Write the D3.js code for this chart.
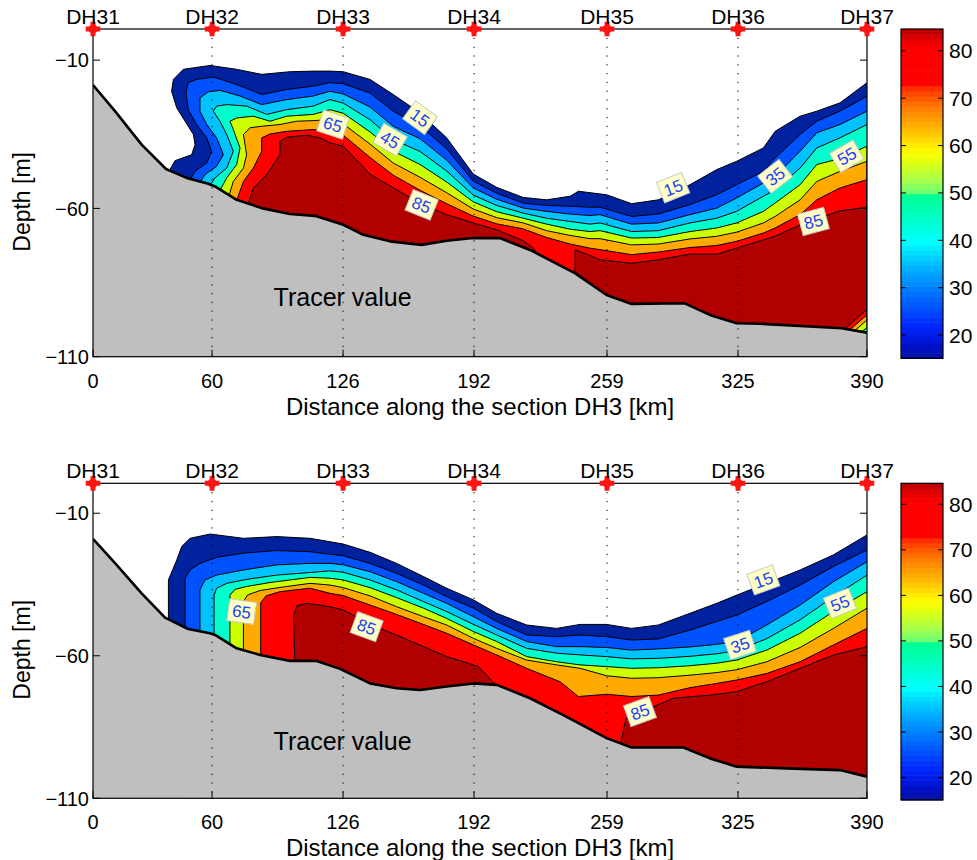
<!DOCTYPE html>
<html>
<head>
<meta charset="utf-8">
<script src="https://cdn.jsdelivr.net/npm/d3@7"></script>
<style>
  body { margin: 0; background: #fff; }
  svg { display: block; }
  text { font-family: "Liberation Sans", Arial, Helvetica, sans-serif; }
</style>
</head>
<body>
<svg id="fig" width="977" height="860"></svg>
<script>
// ---- stations and axes ----
const stationNames = ["DH31", "DH32", "DH33", "DH34", "DH35", "DH36", "DH37"];
const stationKm = [0, 60, 126, 192, 259, 325, 390];
const depthTicks = [-10, -60, -110];

// ---- contour levels and band colours ----
const levels = [15, 25, 35, 45, 55, 65, 75, 85];
const levelColors = ["#00229e", "#0052ff", "#00c2ff", "#00ffcc", "#ccff00", "#ffaa00", "#ff0000", "#b00000"];

// ---- colour bar ----
const cbarMin = 15.1, cbarMax = 84.6;
const cbarTicks = [20, 30, 40, 50, 60, 70, 80];
const cbarStopValues = [15.1, 17.2, 19.3, 22.1, 24.9, 27.8, 30.6, 33.4, 35.5, 37.6, 39.7, 41.8, 44.6, 47.4, 49.9, 50.3, 52.4, 54.5, 56.6, 58.7, 60.8, 62.9, 65.0, 67.1, 69.2, 71.4, 72.8, 73.1, 80.5, 82.6, 84.6];
const cbarStopColors = ["#0a14a0", "#0010c0", "#0018e0", "#0028ff", "#0048ff", "#0068ff", "#0088ff", "#00a8ff", "#00c4ff", "#00e0ff", "#00ffff", "#00ffe8", "#00ffc8", "#00ffa8", "#00ff90", "#70ff70", "#a0ff50", "#c0ff30", "#e0ff10", "#ffff00", "#ffe000", "#ffc000", "#ffa500", "#ff8a00", "#ff6a00", "#ff4000", "#ff1e00", "#ff0000", "#ff0000", "#e00000", "#b40000"];

// ---- upper section: seabed [km, depth m] ----
const topBathy = [[0,-18.4],[11.1,-27.2],[24.5,-38.5],[36.8,-46.7],[47.2,-49.7],[58.1,-51.7],[61.5,-52.6],[72.4,-57.1],[85,-59.9],[99.2,-61.9],[111.8,-62.5],[126.1,-65.5],[136.2,-68.9],[149.6,-71.1],[165.6,-72.3],[178.2,-70.9],[191.6,-70.0],[205,-70.0],[220.2,-74.0],[242.8,-81.8],[258.8,-89.2],[271.4,-92.2],[298.2,-92.0],[310.8,-95.9],[324.3,-98.7],[336,-98.9],[377.2,-100.4],[390,-101.9]];

// upper section: contour lines [km, depth m]
const top15 = [[37.0,-49],[41.3,-43.9],[49.7,-41.9],[51.4,-38.5],[50.6,-35.1],[46.4,-30.6],[42.2,-26.1],[39.6,-20.5],[40.5,-16.5],[45.5,-13.1],[50.6,-12.6],[59.0,-11.8],[72.4,-13.1],[85.0,-14.8],[99.3,-13.9],[111.0,-13.7],[119.4,-13.7],[126.1,-13.9],[139.6,-16.5],[151.3,-21.6],[164.8,-27.8],[178.2,-36.2],[191.6,-48.4],[203.4,-52.9],[216.8,-56.3],[228.6,-57.1],[240.4,-55.9],[244.6,-54.2],[258.8,-55.4],[271.4,-58.4],[284.9,-57.1],[300.8,-52.0],[314.3,-46.9],[324.3,-44.1],[337.8,-39.6],[343.7,-34.0],[356.3,-28.9],[364.7,-27.2],[376.4,-24.4],[390,-17.6]];
const top25 = [[47.5,-52],[51.4,-47.5],[57.3,-44.7],[59.8,-40.7],[57.3,-36.2],[52.2,-31.7],[48.0,-26.7],[46.9,-21.0],[48.0,-17.6],[52.2,-16.5],[60.6,-15.7],[72.4,-18.2],[85.0,-21.6],[97.6,-19.9],[111.0,-18.8],[119.4,-17.6],[126.1,-18.0],[139.6,-21.1],[151.3,-27.2],[164.8,-32.2],[178.2,-39.9],[191.6,-50.8],[203.4,-54.9],[216.8,-58.2],[228.6,-59.0],[240.4,-59.3],[250.4,-59.6],[255.5,-59.6],[271.4,-62.7],[284.9,-61.9],[300.8,-58.7],[314.3,-55.4],[324.3,-52.0],[337.8,-47.5],[343.7,-43.0],[356.3,-35.1],[364.7,-30.6],[376.4,-27.2],[390,-22.2]];
const top35 = [[52.2,-53],[56.4,-48.6],[62.3,-45.8],[65.7,-41.9],[62.3,-36.2],[57.3,-31.7],[53.9,-27.2],[53.9,-22.7],[58.1,-20.7],[64.0,-20.2],[74.1,-22.1],[85.0,-25.0],[97.6,-23.3],[111.0,-22.1],[119.4,-20.5],[126.1,-21.4],[139.6,-25.8],[151.3,-32.3],[164.8,-36.5],[178.2,-43.7],[191.6,-53.1],[203.4,-56.9],[216.8,-59.9],[228.6,-61.0],[240.4,-61.9],[250.4,-62.4],[255.5,-62.1],[271.4,-65.3],[284.9,-64.9],[300.8,-62.1],[314.3,-59.9],[324.3,-56.5],[337.8,-51.4],[343.7,-49.2],[356.3,-40.7],[364.7,-34.5],[376.4,-31.7],[390,-27.2]];
const top45 = [[57.6,-53.5],[61.5,-49.7],[67.4,-46.4],[70.7,-40.7],[67.4,-35.1],[64.0,-30.6],[60.6,-27.2],[62.3,-25.5],[67.4,-25.0],[77.4,-25.5],[87.5,-28.3],[97.6,-26.7],[111.0,-25.5],[119.4,-23.3],[126.1,-24.5],[139.6,-30.1],[151.3,-36.8],[164.8,-40.8],[178.2,-47.4],[191.6,-55.5],[203.4,-59.0],[216.8,-61.6],[228.6,-63.3],[240.4,-64.4],[250.4,-65.3],[255.5,-64.9],[271.4,-67.8],[284.9,-67.5],[300.8,-64.9],[314.3,-63.3],[324.3,-61.0],[337.8,-55.9],[343.7,-53.7],[356.3,-46.4],[364.7,-39.6],[376.4,-36.2],[390,-31.7]];
const top55 = [[62.7,-55.5],[67.4,-49.7],[72.4,-45.2],[74.1,-39.6],[70.7,-33.4],[69.0,-30.6],[72.4,-29.5],[80.8,-28.9],[89.2,-30.6],[97.6,-28.9],[111.0,-28.3],[119.4,-26.7],[126.1,-27.9],[139.6,-34.2],[151.3,-40.7],[164.8,-45.2],[178.2,-51.1],[191.6,-57.8],[203.4,-61.1],[216.8,-63.3],[228.6,-65.3],[240.4,-67.0],[250.4,-67.8],[255.5,-67.5],[271.4,-70.0],[284.9,-69.8],[300.8,-67.8],[314.3,-66.6],[324.3,-64.9],[337.8,-61.0],[343.7,-58.2],[356.3,-52.0],[364.7,-45.2],[376.4,-43.2],[390,-39.0],[390,-100.2],[387.3,-101.6],[387.3,-104]];
const top65 = [[67.7,-57.5],[70.7,-50.9],[75.8,-46.4],[77.4,-41.9],[75.8,-35.1],[79.1,-32.8],[85.0,-32.3],[94.2,-31.7],[102.6,-30.6],[111.0,-30.4],[119.4,-30.0],[126.1,-31.5],[139.6,-38.3],[151.3,-44.7],[164.8,-49.5],[178.2,-54.7],[191.6,-60.2],[203.4,-63.1],[216.8,-64.9],[228.6,-67.5],[240.4,-69.1],[250.4,-70.2],[255.5,-70.2],[271.4,-72.3],[284.9,-72.0],[300.8,-70.3],[314.3,-69.4],[324.3,-68.0],[337.8,-64.9],[343.7,-62.7],[356.3,-57.1],[364.7,-50.9],[376.4,-47.5],[390,-44.1],[390,-97.6],[383.9,-101.2],[383.9,-104]];
const top75 = [[71.5,-59],[75.8,-50.9],[80.8,-46.4],[85.0,-40.7],[85.0,-36.2],[89.2,-34.9],[97.6,-34.0],[111.0,-33.4],[119.4,-34.0],[126.1,-35.3],[139.6,-42.8],[151.3,-48.8],[164.8,-53.9],[178.2,-58.4],[191.6,-62.6],[203.4,-65.2],[216.8,-66.9],[228.6,-69.8],[240.4,-72.0],[250.4,-73.4],[255.5,-73.9],[271.4,-75.6],[284.9,-74.7],[300.8,-73.2],[314.3,-72.5],[324.3,-71.1],[337.8,-68.3],[343.7,-66.6],[356.3,-62.1],[364.7,-57.1],[376.4,-53.1],[390,-50.3],[390,-95.9],[381.4,-100.9],[381.4,-104]];
const top85a = [[77.1,-60.5],[80.8,-53.1],[87.5,-48.6],[94.2,-41.9],[94.2,-37.4],[97.6,-36.0],[107.7,-35.3],[114.4,-36.2],[119.4,-37.9],[126.1,-39.0],[139.6,-48.4],[151.3,-53.1],[164.8,-58.2],[178.2,-62.1],[191.6,-64.9],[203.4,-67.2],[216.8,-70.9],[221.9,-73.4],[227,-78.5]];
const top85b = [[242.9,-84],[242.9,-73.9],[255.5,-77.3],[271.4,-78.5],[284.9,-77.3],[300.8,-75.4],[314.3,-75.4],[324.3,-73.4],[337.8,-70.6],[343.7,-69.4],[356.3,-65.5],[364.7,-63.5],[376.4,-60.8],[390,-59.6],[390,-94.0],[378.9,-100.6],[378.9,-104]];

// upper section: inline contour labels
const topLabelValues = [65, 45, 15, 85, 15, 35, 55, 85];
const topLabelKm = [120.9, 149.7, 164.8, 165.6, 292.3, 343.7, 379.8, 363.0];
const topLabelDepth = [-31.7, -36.8, -29.4, -58.8, -53.0, -49.2, -42.4, -64.4];
const topLabelAngle = [18, 30, 36, 22, -22, -38, -30, -15];

// ---- lower section: seabed [km, depth m] ----
const botBathy = [[0,-19.0],[11.1,-27.5],[24.5,-38.1],[36.3,-46.6],[48.0,-50.6],[58.9,-52.1],[61.5,-52.7],[72.4,-57.4],[84.2,-59.7],[99.3,-61.8],[112.7,-61.8],[124.5,-64.6],[139.6,-69.7],[153.0,-71.4],[164.8,-72.0],[178.2,-70.8],[191.6,-69.7],[203.4,-70.2],[220.2,-74.9],[237.0,-80.8],[258.8,-88.9],[271.4,-92.2],[297.5,-92.2],[310.9,-96.0],[324.3,-98.9],[349.5,-99.5],[376.4,-100.1],[390,-102.4]];

// lower section: contour lines [km, depth m]
const bot15 = [[38.0,-49],[38.0,-33.4],[42.2,-26.4],[44.7,-21.7],[48.9,-18.8],[59.0,-17.3],[75.8,-18.8],[92.6,-18.2],[109.4,-18.8],[119.4,-20.0],[126.1,-20.8],[139.6,-23.7],[153.0,-27.6],[166.5,-32.2],[178.2,-36.3],[191.7,-40.4],[203.4,-45.1],[218.5,-49.2],[233.6,-50.4],[245.4,-49.0],[258.8,-49.0],[271.4,-50.4],[284.9,-49.2],[300.8,-45.1],[314.3,-41.6],[324.4,-38.7],[339.5,-34.6],[356.3,-29.9],[373.1,-24.6],[390,-17.6]];
const bot25 = [[46.4,-52],[46.4,-32.8],[48.9,-29.9],[53.9,-27.6],[62.3,-25.5],[75.8,-24.0],[92.6,-23.1],[109.4,-23.5],[119.4,-24.4],[126.1,-24.9],[139.6,-27.6],[153.0,-31.1],[166.5,-35.2],[178.2,-39.3],[191.7,-43.3],[203.4,-48.0],[218.5,-52.7],[233.6,-53.3],[245.4,-52.7],[258.8,-53.3],[271.4,-54.5],[284.9,-54.1],[300.8,-51.0],[314.3,-48.0],[324.4,-45.7],[339.5,-41.0],[356.3,-35.2],[373.1,-28.7],[390,-22.9]];
const bot35 = [[53.9,-53.5],[53.9,-36.9],[56.4,-33.4],[62.3,-31.7],[75.8,-29.9],[92.6,-28.1],[109.4,-27.6],[119.4,-27.6],[126.1,-28.1],[139.6,-30.5],[153.0,-34.0],[166.5,-38.1],[178.2,-41.6],[191.7,-46.3],[203.4,-50.4],[218.5,-55.0],[233.6,-56.8],[245.4,-56.8],[258.8,-57.1],[271.4,-58.0],[284.9,-57.6],[300.8,-56.9],[314.3,-56.0],[324.4,-55.0],[339.5,-49.2],[356.3,-42.2],[373.1,-34.0],[390,-27.0]];
const bot45 = [[61.0,-54.5],[61.0,-38.7],[62.3,-36.3],[67.4,-34.6],[77.4,-33.2],[92.6,-31.7],[109.4,-30.8],[119.4,-30.2],[126.1,-30.7],[139.6,-33.4],[153.0,-36.9],[166.5,-41.0],[178.2,-44.5],[191.7,-49.0],[203.4,-52.7],[218.5,-57.4],[233.6,-59.1],[245.4,-59.7],[258.8,-60.3],[271.4,-61.1],[284.9,-60.9],[300.8,-60.2],[314.3,-59.3],[324.4,-58.2],[339.5,-54.0],[356.3,-47.4],[373.1,-39.3],[390,-31.7]];
const bot55 = [[69.0,-58],[69.0,-38.7],[71.6,-36.7],[77.4,-35.7],[89.2,-34.3],[109.4,-32.5],[119.4,-32.8],[126.1,-33.4],[139.6,-36.1],[153.0,-39.6],[166.5,-43.3],[178.2,-46.9],[191.7,-51.5],[203.4,-55.0],[218.5,-60.3],[233.6,-62.1],[245.4,-63.2],[258.8,-63.8],[271.4,-64.4],[284.9,-64.2],[300.8,-63.5],[314.3,-62.6],[324.4,-61.5],[339.5,-58.0],[356.3,-52.1],[373.1,-44.5],[390,-37.5]];
const bot65 = [[75.8,-60],[75.8,-41.0],[77.8,-38.7],[84.2,-37.1],[97.6,-35.7],[109.4,-34.6],[119.4,-35.2],[126.1,-36.1],[139.6,-39.0],[153.0,-42.8],[166.5,-46.3],[178.2,-49.2],[191.7,-53.9],[203.4,-57.4],[218.5,-61.5],[233.6,-63.2],[245.4,-64.4],[258.8,-67.0],[271.4,-67.9],[284.9,-67.7],[300.8,-66.8],[314.3,-65.9],[324.4,-64.9],[339.5,-62.1],[356.3,-57.1],[373.1,-50.4],[390,-43.3]];
const bot75 = [[84.5,-62],[84.5,-41.4],[87.2,-39.0],[94.2,-37.5],[109.4,-36.3],[119.4,-38.1],[126.1,-38.9],[139.6,-42.2],[153.0,-45.5],[166.5,-49.0],[178.2,-52.1],[191.7,-56.2],[203.4,-59.7],[218.5,-64.4],[235.3,-69.1],[244.6,-74.3],[258.8,-73.5],[271.4,-74.3],[284.9,-73.8],[300.8,-71.2],[314.3,-69.7],[324.4,-68.5],[339.5,-66.2],[356.3,-62.1],[373.1,-56.2],[390,-50.4]];
const bot85a = [[101.8,-64],[101.0,-46.3],[102.6,-42.5],[107.7,-41.6],[119.4,-42.8],[126.1,-43.9],[139.6,-49.0],[153.0,-52.7],[166.5,-56.8],[178.2,-60.3],[191.7,-63.2],[194.2,-63.8],[206,-72.5]];
const bot85b = [[265.2,-93],[268.6,-81.9],[280.7,-78.4],[292.4,-74.9],[310.9,-73.8],[324.4,-72.6],[339.5,-69.1],[356.3,-64.4],[373.1,-59.7],[390,-56.8]];

// lower section: inline contour labels
const botLabelValues = [65, 85, 15, 55, 35, 85];
const botLabelKm = [74.9, 137.9, 337.8, 376.4, 326.0, 275.6];
const botLabelDepth = [-44.5, -49.8, -33.4, -41.6, -56.2, -79.6];
const botLabelAngle = [8, 20, -20, -22, -18, -20];

// ---- layout ----
const panels = [
  { top: 29, bottom: 356.7, bathy: topBathy,
    contours: [[top15], [top25], [top35], [top45], [top55], [top65], [top75], [top85a, top85b]],
    labels: { values: topLabelValues, km: topLabelKm, depth: topLabelDepth, angle: topLabelAngle } },
  { top: 483.3, bottom: 798.3, bathy: botBathy,
    contours: [[bot15], [bot25], [bot35], [bot45], [bot55], [bot65], [bot75], [bot85a, bot85b]],
    labels: { values: botLabelValues, km: botLabelKm, depth: botLabelDepth, angle: botLabelAngle } }
];

const svg = d3.select("#fig");
const defs = svg.append("defs");
const x = d3.scaleLinear().domain([0, 390]).range([93, 867]);
const cbarColor = d3.scaleLinear().domain(cbarStopValues).range(cbarStopColors).interpolate(d3.interpolateRgb);

panels.forEach((p, pi) => {
  const y = d3.scaleLinear().domain([-110, 0.5]).range([p.bottom, p.top]);
  const line = d3.line().x(d => x(d[0])).y(d => y(d[1]));
  const clipId = "plotclip" + pi;
  defs.append("clipPath").attr("id", clipId)
    .append("rect").attr("x", x(0)).attr("y", p.top)
    .attr("width", x(390) - x(0)).attr("height", p.bottom - p.top);

  const g = svg.append("g");
  const plot = g.append("g").attr("clip-path", `url(#${clipId})`);

  // filled bands: each level region is painted over the previous one
  p.contours.forEach((segs, li) => {
    segs.forEach(pts => {
      const poly = pts.concat([[pts[pts.length - 1][0], -110], [pts[0][0], -110]]);
      plot.append("path").attr("d", line(poly) + "Z").attr("fill", levelColors[li]);
    });
  });
  // contour lines
  p.contours.forEach(segs => segs.forEach(pts => {
    plot.append("path").attr("d", line(pts)).attr("fill", "none")
      .attr("stroke", "#000").attr("stroke-width", 1).attr("stroke-linejoin", "round");
  }));

  // seabed
  const seabed = p.bathy.concat([[390, -110], [0, -110]]);
  plot.append("path").attr("d", line(seabed) + "Z").attr("fill", "#bfbfbf");
  plot.append("path").attr("d", line(p.bathy)).attr("fill", "none")
    .attr("stroke", "#000").attr("stroke-width", 2.6).attr("stroke-linejoin", "round");

  // dotted station verticals
  stationKm.slice(1, -1).forEach(k => {
    g.append("line").attr("x1", x(k)).attr("x2", x(k)).attr("y1", p.top).attr("y2", p.bottom)
      .attr("stroke", "#000").attr("stroke-width", 1).attr("stroke-dasharray", "1.3,7.5");
  });

  // "Tracer value" note on the seabed
  g.append("text").attr("x", x(91)).attr("y", y(-93)).attr("font-size", 25).attr("fill", "#000")
    .text("Tracer value");

  // axes frame
  g.append("rect").attr("x", x(0)).attr("y", p.top).attr("width", x(390) - x(0))
    .attr("height", p.bottom - p.top).attr("fill", "none").attr("stroke", "#000").attr("stroke-width", 1.2);

  // x ticks (bottom + top, inward) and labels
  stationKm.forEach((k, i) => {
    g.append("line").attr("x1", x(k)).attr("x2", x(k)).attr("y1", p.bottom).attr("y2", p.bottom - 7)
      .attr("stroke", "#000").attr("stroke-width", 1);
    g.append("line").attr("x1", x(k)).attr("x2", x(k)).attr("y1", p.top).attr("y2", p.top + 7)
      .attr("stroke", "#000").attr("stroke-width", 1);
    g.append("text").attr("x", x(k)).attr("y", p.bottom + 31).attr("text-anchor", "middle")
      .attr("font-size", 20).text(String(k));
  });
  g.append("text").attr("x", x(195)).attr("y", p.bottom + 58).attr("text-anchor", "middle")
    .attr("font-size", 24).text("Distance along the section DH3 [km]");

  // y ticks and labels
  depthTicks.forEach(d => {
    g.append("line").attr("x1", x(0)).attr("x2", x(0) + 7).attr("y1", y(d)).attr("y2", y(d))
      .attr("stroke", "#000").attr("stroke-width", 1);
    g.append("line").attr("x1", x(390)).attr("x2", x(390) - 7).attr("y1", y(d)).attr("y2", y(d))
      .attr("stroke", "#000").attr("stroke-width", 1);
    g.append("text").attr("x", 89).attr("y", y(d)).attr("dy", "0.36em").attr("text-anchor", "end")
      .attr("font-size", 20).text(String(d).replace("-", "\u2212"));
  });
  g.append("text").attr("transform", `translate(30,${(p.top + p.bottom) / 2 + 9}) rotate(-90)`)
    .attr("text-anchor", "middle").attr("font-size", 23).text("Depth [m]");

  // station markers and names
  stationKm.forEach((k, i) => {
    const mx = x(k), my = y(0.5);
    g.append("path").attr("d", d3.symbol(d3.symbolCross, 120)())
      .attr("transform", `translate(${mx},${my})`).attr("fill", "#ff1414");
    g.append("path").attr("d", d3.symbol(d3.symbolSquare, 80)())
      .attr("transform", `translate(${mx},${my}) rotate(45)`).attr("fill", "#ff1414");
    g.append("text").attr("x", mx).attr("y", p.top - 5).attr("text-anchor", "middle")
      .attr("font-size", 21).text(stationNames[i]);
  });

  // inline contour labels
  p.labels.values.forEach((v, i) => {
    const lg = g.append("g")
      .attr("transform", `translate(${x(p.labels.km[i])},${y(p.labels.depth[i])}) rotate(${p.labels.angle[i]})`);
    lg.append("rect").attr("x", -13.5).attr("y", -11).attr("width", 27).attr("height", 22)
      .attr("fill", "#ffffc6").attr("stroke", "#c8c8c8").attr("stroke-width", 1);
    lg.append("text").attr("x", 0).attr("y", 0).attr("dy", "0.36em").attr("text-anchor", "middle")
      .attr("font-size", 17).attr("fill", "#2040ff").text(String(v));
  });

  // colour bar
  const cbX = 901, cbW = 42;
  const cy = d3.scaleLinear().domain([cbarMin, cbarMax]).range([p.bottom + 1.6, p.top]);
  const nSteps = 64, step = (cbarMax - cbarMin) / nSteps;
  const cb = svg.append("g");
  d3.range(nSteps).forEach(i => {
    const v0 = cbarMin + i * step, v1 = v0 + step;
    cb.append("rect").attr("x", cbX).attr("width", cbW)
      .attr("y", cy(v1)).attr("height", cy(v0) - cy(v1) + 0.6)
      .attr("fill", cbarColor(v0 + step / 2));
  });
  cb.append("rect").attr("x", cbX).attr("y", cy(cbarMax)).attr("width", cbW)
    .attr("height", cy(cbarMin) - cy(cbarMax)).attr("fill", "none").attr("stroke", "#000").attr("stroke-width", 1.2);
  cbarTicks.forEach(t => {
    cb.append("line").attr("x1", cbX).attr("x2", cbX + 5).attr("y1", cy(t)).attr("y2", cy(t))
      .attr("stroke", "#000").attr("stroke-width", 1);
    cb.append("line").attr("x1", cbX + cbW).attr("x2", cbX + cbW - 5).attr("y1", cy(t)).attr("y2", cy(t))
      .attr("stroke", "#000").attr("stroke-width", 1);
    cb.append("text").attr("x", cbX + cbW + 6).attr("y", cy(t)).attr("dy", "0.36em")
      .attr("font-size", 21).text(String(t));
  });
});
</script>
</body>
</html>
